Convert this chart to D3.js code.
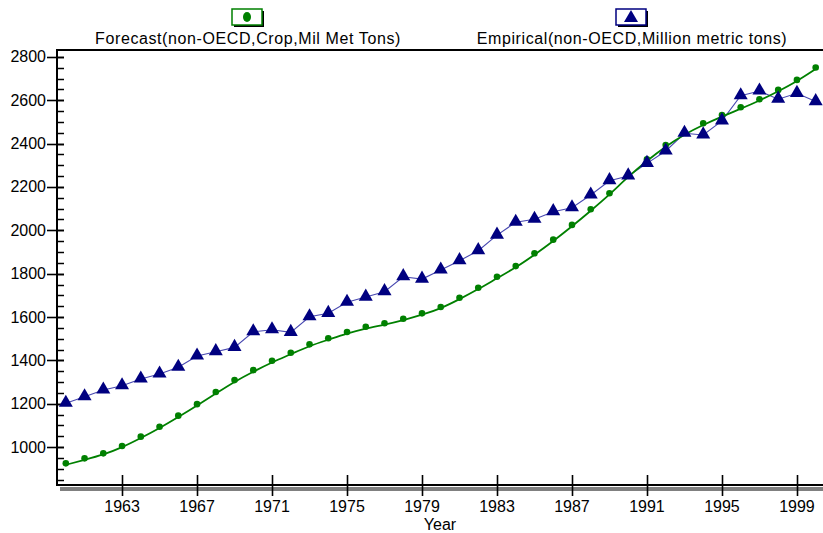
<!DOCTYPE html>
<html>
<head>
<meta charset="utf-8">
<script src="https://cdn.jsdelivr.net/npm/d3@7"></script>
<style>
  body { margin: 0; background: #fff; }
  svg { display: block; font-family: "Liberation Sans", Arial, sans-serif; }
</style>
</head>
<body>
<svg width="823" height="533"></svg>
<script>
const years = d3.range(1960, 2001);
const forecast = [925, 948, 971, 1005, 1048, 1094, 1145, 1198, 1254, 1309,
    1355, 1398, 1435, 1474, 1502, 1531, 1555, 1571, 1592, 1617,
    1646, 1689, 1735, 1786, 1835, 1894, 1957, 2025, 2097, 2171,
    2255, 2328, 2394, 2450, 2494, 2532, 2568, 2605, 2648, 2694, 2751];
const empirical = [1202, 1232, 1263, 1283, 1314, 1337, 1368, 1420, 1440, 1460,
    1532, 1541, 1529, 1601, 1617, 1668, 1692, 1717, 1786, 1775,
    1817, 1860, 1906, 1978, 2037, 2051, 2086, 2104, 2163, 2229,
    2251, 2309, 2366, 2448, 2440, 2505, 2621, 2643, 2605, 2632, 2594];
const xTicks = [1963, 1967, 1971, 1975, 1979, 1983, 1987, 1991, 1995, 1999];
const yTicks = [1000, 1200, 1400, 1600, 1800, 2000, 2200, 2400, 2600, 2800];
const legendLabels = ["Forecast(non-OECD,Crop,Mil Met Tons)", "Empirical(non-OECD,Million metric tons)"];

const svg = d3.select("svg");
const plotL = 57, plotR = 823, plotT = 50, plotB = 485;
const green = "#008000", navy = "#000080";

const x = d3.scaleLinear().domain([1959.53, 2000.39]).range([plotL, plotR]);
const y = d3.scaleLinear().domain([825, 2832]).range([plotB, plotT]);

// x axis shadow, then axes
svg.append("rect").attr("x", plotL + 3).attr("y", plotB + 2)
    .attr("width", plotR - plotL).attr("height", 4).attr("fill", "#808080");

svg.append("line").attr("x1", plotL).attr("x2", plotR).attr("y1", plotT).attr("y2", plotT)
    .attr("stroke", "#000").attr("stroke-width", 2);
svg.append("line").attr("x1", plotL).attr("x2", plotR).attr("y1", plotB).attr("y2", plotB)
    .attr("stroke", "#000").attr("stroke-width", 2);
svg.append("line").attr("x1", plotL).attr("x2", plotL).attr("y1", plotT - 1).attr("y2", plotB + 1)
    .attr("stroke", "#000").attr("stroke-width", 2);

// y minor ticks
svg.selectAll(".ymin").data(d3.range(850, 2801, 50)).join("line")
    .attr("x1", plotL).attr("x2", plotL + 7)
    .attr("y1", d => Math.round(y(d)) + 0.5).attr("y2", d => Math.round(y(d)) + 0.5)
    .attr("stroke", "#000").attr("stroke-width", 1.5);
// y major ticks
svg.selectAll(".ymaj").data(yTicks).join("line")
    .attr("x1", plotL - 10).attr("x2", plotL + 7)
    .attr("y1", d => Math.round(y(d)) + 0.5).attr("y2", d => Math.round(y(d)) + 0.5)
    .attr("stroke", "#000").attr("stroke-width", 1.6);
svg.selectAll(".ylab").data(yTicks).join("text")
    .attr("x", plotL - 11).attr("y", d => y(d))
    .attr("text-anchor", "end").attr("dominant-baseline", "central")
    .attr("font-size", 16).attr("fill", "#000")
    .text(d => d);

// x ticks
svg.selectAll(".xt").data(xTicks).join("line")
    .attr("x1", d => Math.round(x(d)) + 0.5).attr("x2", d => Math.round(x(d)) + 0.5)
    .attr("y1", plotB - 10).attr("y2", plotB + 11)
    .attr("stroke", "#000").attr("stroke-width", 1.6);
svg.selectAll(".xlab").data(xTicks).join("text")
    .attr("x", d => x(d)).attr("y", 512)
    .attr("text-anchor", "middle").attr("font-size", 16).attr("fill", "#000")
    .text(d => d);
svg.append("text").attr("x", 440).attr("y", 530)
    .attr("text-anchor", "middle").attr("font-size", 16).attr("fill", "#000")
    .text("Year");

// empirical series
svg.append("path").datum(empirical)
    .attr("fill", "none").attr("stroke", "#4848b0").attr("stroke-width", 1.1)
    .attr("d", d3.line().x((d, i) => x(years[i])).y(d => y(d)));

// forecast series
svg.append("path").datum(forecast)
    .attr("fill", "none").attr("stroke", green).attr("stroke-width", 1.8)
    .attr("d", d3.line().curve(d3.curveBasis).x((d, i) => x(years[i])).y(d => y(d) + 1.5));
svg.selectAll(".dot").data(forecast).join("circle")
    .attr("cx", (d, i) => x(years[i])).attr("cy", d => y(d))
    .attr("r", 3.3).attr("fill", green);

const tri = d3.symbol().type(d3.symbolTriangle).size(85);
svg.selectAll(".tri").data(empirical).join("path")
    .attr("transform", (d, i) => `translate(${x(years[i])},${y(d) - 0.5})`)
    .attr("d", tri).attr("fill", navy);

// legend
const legend = [
    { label: legendLabels[0], cx: 247, tx: 248, color: green, mark: "dot" },
    { label: legendLabels[1], cx: 631, tx: 632, color: navy, mark: "tri" }
];
legend.forEach(l => {
    svg.append("rect").attr("x", l.cx - 13).attr("y", 11).attr("width", 30).attr("height", 16)
        .attr("fill", "#000");
    svg.append("rect").attr("x", l.cx - 15).attr("y", 9).attr("width", 30).attr("height", 16)
        .attr("fill", "#fff").attr("stroke", l.color).attr("stroke-width", 1.5);
    if (l.mark === "dot") {
        svg.append("ellipse").attr("cx", l.cx).attr("cy", 17).attr("rx", 4).attr("ry", 5)
            .attr("fill", l.color);
    } else {
        svg.append("path").attr("transform", `translate(${l.cx},18)`)
            .attr("d", d3.symbol().type(d3.symbolTriangle).size(85)).attr("fill", l.color);
    }
    svg.append("text").attr("x", l.tx).attr("y", 44)
        .attr("text-anchor", "middle").attr("font-size", 16).attr("letter-spacing", 0.6)
        .attr("fill", "#000").text(l.label);
});
</script>
</body>
</html>
